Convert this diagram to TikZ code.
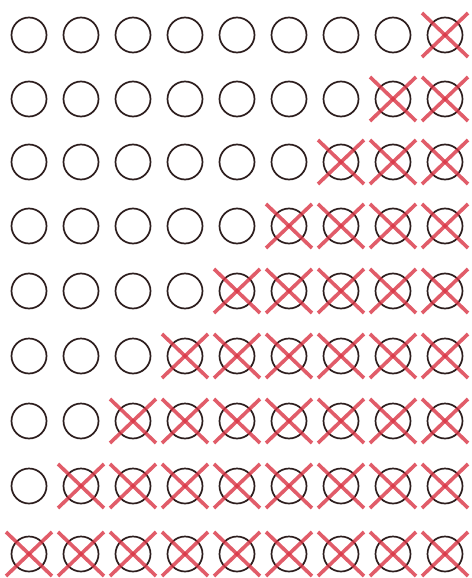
\documentclass[tikz,border=0pt]{standalone}
\usetikzlibrary{calc}
\definecolor{ringcol}{RGB}{45,30,30}
\definecolor{crosscol}{RGB}{218,52,68}
\begin{document}
\begin{tikzpicture}[x=1pt,y=-1pt,
  ring/.style={circle,draw=ringcol,line width=1.7pt,minimum size=35pt,inner sep=0pt},
  crossline/.style={draw=crosscol,line width=3.6pt,opacity=0.8}]
\useasboundingbox[fill=white] (0,0) rectangle (471,578);
\foreach \r/\y in {1/35,2/99,3/162,4/226,5/291,6/356,7/421,8/486,9/554}{
  \foreach \c in {1,...,9}{
    \node[ring] (n\r-\c) at ({29+52*(\c-1)},\y) {};
  }
}
\foreach \r in {1,...,9}{
  \foreach \c in {1,...,9}{
    \pgfmathtruncatemacro{\lim}{9-\r}
    \ifnum\c>\lim
      \draw[crossline] ($(n\r-\c.center)+(-23,-22)$) -- ($(n\r-\c.center)+(23,22)$);
      \draw[crossline] ($(n\r-\c.center)+(23,-22)$) -- ($(n\r-\c.center)+(-23,22)$);
    \fi
  }
}
\end{tikzpicture}
\end{document}
